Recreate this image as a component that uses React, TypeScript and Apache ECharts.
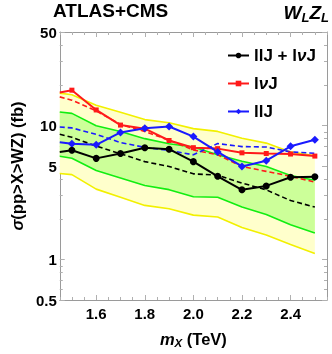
import React, { useEffect, useRef } from "react";
import * as echarts from "echarts";

const mass = [1.45, 1.5, 1.6, 1.7, 1.8, 1.9, 2.0, 2.1, 2.2, 2.3, 2.4, 2.5];
const combObs = [6.37, 6.55, 5.7, 6.2, 6.85, 6.67, 5.39, 4.19, 3.32, 3.55, 4.12, 4.15];
const combExp = [8.62, 8.2, 7.04, 6.17, 5.39, 4.96, 4.37, 4.27, 3.73, 3.32, 2.76, 2.47];
const lvjObs = [17.7, 18.4, 13.1, 10.1, 9.5, 7.75, 6.85, 6.74, 6.27, 6.2, 6.14, 5.93];
const lvjExp = [16.4, 15.5, 12.9, 10.2, 9.06, 7.79, 6.59, 6.06, 4.96, 4.56, 4.19, 3.79];
const lljObs = [7.53, 7.33, 7.2, 8.9, 9.57, 9.86, 8.29, 6.37, 4.96, 5.48, 7.01, 7.84];
const lljExp = [9.77, 9.62, 8.62, 7.48, 6.88, 6.54, 6.06, 7.35, 6.98, 6.93, 6.37, 6.22];
const band2Up = [17.5, 17.0, 14.2, 12.6, 11.1, 10.5, 9.5, 9.06, 8.05, 7.41, 6.37, 5.96];
const band1Up = [12.66, 12.35, 10.0, 9.06, 8.0, 7.33, 6.93, 6.06, 5.43, 4.96, 4.25, 3.92];
const band1Dn = [5.91, 5.71, 4.63, 4.07, 3.58, 3.33, 2.95, 2.92, 2.47, 2.17, 1.82, 1.58];
const band2Dn = [4.39, 4.31, 3.36, 2.92, 2.54, 2.4, 2.15, 2.08, 1.74, 1.53, 1.3, 1.11];

const xMajor = [1.6, 1.8, 2.0, 2.2, 2.4];
const xMinor = [1.45, 1.5, 1.55, 1.65, 1.7, 1.75, 1.85, 1.9, 1.95, 2.05, 2.1, 2.15, 2.25, 2.3, 2.35, 2.45, 2.5, 2.55];
const yMajor = [0.5, 1, 5, 10, 50];
const yMinor = [0.6, 0.7, 0.8, 0.9, 2, 3, 4, 6, 7, 8, 9, 20, 30, 40];

const NAME_COMB = "llJ + lνJ";
const NAME_LVJ = "lνJ";
const NAME_LLJ = "llJ";

const FONT = "'Liberation Sans', Arial, sans-serif";
const FRAME = "#9a9a9a";
const TICK = "#b0b0b0";

const pairs = (ys: number[]) =>
  mass.map((m, i) => (i === 0 ? { value: [m, ys[i]], symbol: "none" } : [m, ys[i]]));

function bandSeries(up: number[], dn: number[], fill: string, z: number) {
  return {
    type: "custom",
    coordinateSystem: "cartesian2d",
    xAxisIndex: 0,
    yAxisIndex: 0,
    silent: true,
    z,
    data: [[mass[0], up[0]]],
    renderItem: (_p: any, api: any) => {
      const pts: number[][] = [];
      mass.forEach((m, i) => pts.push(api.coord([m, up[i]])));
      for (let i = mass.length - 1; i >= 0; i--) pts.push(api.coord([mass[i], dn[i]]));
      return { type: "polygon", shape: { points: pts }, style: { fill } };
    },
  };
}

function edge(ys: number[], color: string) {
  return {
    type: "line",
    silent: true,
    data: mass.map((m, i) => [m, ys[i]]),
    symbol: "none",
    lineStyle: { color, width: 1.6 },
    z: 3,
  };
}

function dashed(ys: number[], color: string) {
  return {
    type: "line",
    silent: true,
    data: mass.map((m, i) => [m, ys[i]]),
    symbol: "none",
    lineStyle: { color, width: 1.6, type: [5, 3] },
    z: 4,
  };
}

function solid(name: string, ys: number[], color: string, symbol: string, size: number) {
  return {
    name,
    type: "line",
    data: pairs(ys),
    symbol,
    symbolSize: size,
    itemStyle: { color },
    lineStyle: { color, width: 2 },
    z: 5,
  };
}

function xAx(position: string, ticks: number[], len: number, main: boolean) {
  return {
    type: "value",
    position,
    min: 1.45,
    max: 2.55,
    axisLine: { show: main, lineStyle: { color: FRAME, width: 1 } },
    axisTick: { show: true, inside: true, length: len, customValues: ticks, lineStyle: { color: TICK } },
    axisLabel:
      main && position === "bottom"
        ? {
            show: true,
            customValues: xMajor,
            formatter: (v: number) => v.toFixed(1),
            color: "#000",
            fontWeight: "bold",
            fontSize: 15,
            fontFamily: FONT,
            margin: 6,
          }
        : { show: false },
    splitLine: { show: false },
  };
}

function yAx(position: string, ticks: number[], len: number, main: boolean) {
  return {
    type: "log",
    logBase: 10,
    position,
    min: 0.5,
    max: 50,
    axisLine: { show: main, lineStyle: { color: FRAME, width: 1 } },
    axisTick: { show: true, inside: true, length: len, customValues: ticks, lineStyle: { color: TICK } },
    axisLabel:
      main && position === "left"
        ? {
            show: true,
            customValues: yMajor,
            formatter: (v: number) => String(v),
            color: "#000",
            fontWeight: "bold",
            fontSize: 15,
            fontFamily: FONT,
            margin: 3,
          }
        : { show: false },
    splitLine: { show: false },
    minorTick: { show: false },
  };
}

export default function App() {
  const ref = useRef<HTMLDivElement>(null);
  useEffect(() => {
    if (!ref.current) return;
    const chart = echarts.init(ref.current, undefined, { renderer: "svg" });
    const xAxes: any[] = [xAx("bottom", xMajor, 5, true), xAx("bottom", xMinor, 3, false), xAx("top", xMajor, 5, true), xAx("top", xMinor, 3, false)];
    xAxes[0].name = "{i|m}{s|X} (TeV)";
    xAxes[0].nameLocation = "middle";
    xAxes[0].nameGap = 29;
    xAxes[0].nameTextStyle = {
      color: "#000",
      fontSize: 16.5,
      fontWeight: "bold",
      fontFamily: FONT,
      rich: {
        i: { fontStyle: "italic", fontWeight: "bold", fontSize: 16.5, fontFamily: FONT },
        s: { fontStyle: "italic", fontWeight: "bold", fontSize: 11.5, fontFamily: FONT, verticalAlign: "bottom", padding: [8, 0, 0, 0] },
      },
    };
    const yAxes: any[] = [yAx("left", yMajor, 5, true), yAx("left", yMinor, 3, false), yAx("right", yMajor, 5, true), yAx("right", yMinor, 3, false)];
    yAxes[0].name = "{i|σ}(pp>X>WZ) (fb)";
    yAxes[0].nameLocation = "middle";
    yAxes[0].nameGap = 32;
    yAxes[0].nameTextStyle = {
      color: "#000",
      fontSize: 16.5,
      fontWeight: "bold",
      fontFamily: FONT,
      rich: { i: { fontStyle: "italic", fontWeight: "bold", fontSize: 16.5, fontFamily: FONT } },
    };

    chart.setOption({
      animation: false,
      textStyle: { fontFamily: FONT },
      grid: { left: 53, right: 5, top: 32, bottom: 47, containLabel: false },
      title: [
        {
          text: "ATLAS+CMS",
          left: 53,
          top: 1,
          padding: 0,
          textStyle: { fontSize: 19, fontWeight: "bold", color: "#000", fontFamily: FONT },
        },
        {
          text: "{b|W}{s|L}{b|Z}{s|L}",
          right: 3,
          top: 1,
          padding: 0,
          textStyle: {
            fontSize: 19,
            color: "#000",
            rich: {
              b: { fontSize: 19, fontWeight: "bold", fontStyle: "italic", fontFamily: FONT },
              s: { fontSize: 13, fontWeight: "bold", fontStyle: "italic", fontFamily: FONT, verticalAlign: "bottom", padding: [10, 0, 0, 0] },
            },
          },
        },
      ],
      legend: {
        data: [NAME_COMB, NAME_LVJ, NAME_LLJ],
        orient: "vertical",
        left: 227,
        top: 47,
        itemWidth: 21,
        itemHeight: 7,
        itemGap: 11,
        padding: 0,
        formatter: (n: string) => n.replace(/ν/g, "{i|ν}"),
        textStyle: {
          fontSize: 17,
          fontWeight: "bold",
          color: "#000",
          fontFamily: FONT,
          rich: { i: { fontSize: 17, fontWeight: "bold", fontStyle: "italic", color: "#000", fontFamily: FONT } },
        },
      },
      xAxis: xAxes,
      yAxis: yAxes,
      series: [
        bandSeries(band2Up, band2Dn, "#ffffcc", 1),
        bandSeries(band1Up, band1Dn, "#ccff99", 2),
        edge(band2Up, "#f2f000"),
        edge(band2Dn, "#f2f000"),
        edge(band1Up, "#11ee11"),
        edge(band1Dn, "#11ee11"),
        dashed(combExp, "#000000"),
        dashed(lvjExp, "#ff1a1a"),
        dashed(lljExp, "#1a1aff"),
        solid(NAME_LVJ, lvjObs, "#ff1a1a", "rect", 5),
        solid(NAME_LLJ, lljObs, "#1a1aff", "diamond", 8),
        solid(NAME_COMB, combObs, "#000000", "circle", 7),
      ],
    });
    return () => chart.dispose();
  }, []);
  return <div ref={ref} style={{ position: "fixed", left: 0, top: 0, width: 332, height: 354 }} />;
}
